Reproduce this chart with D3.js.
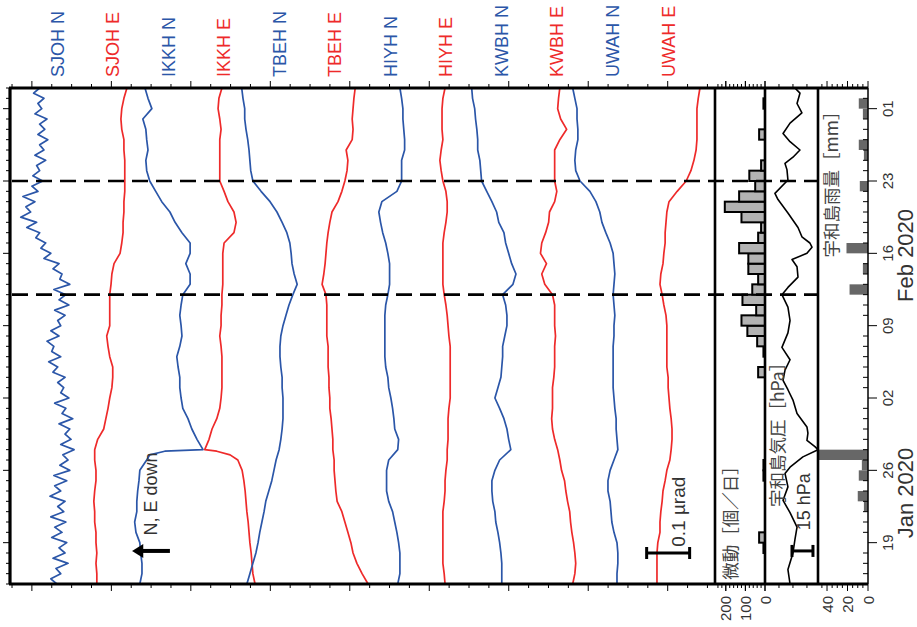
<!DOCTYPE html>
<html><head><meta charset="utf-8">
<script src="https://cdnjs.cloudflare.com/ajax/libs/d3/7.8.5/d3.min.js"></script>
<style>
body{margin:0;background:#fff}
svg{display:block}
text{font-family:"Liberation Sans",Arial,sans-serif}
.cjk{font-family:"Noto Sans CJK JP","Noto Sans CJK SC",sans-serif}
</style>
</head><body>
<svg id="c" width="917" height="627"></svg>
<script>
// ---------------- DATA ----------------
// time in days since 2020-01-15 00:00
const seriesNames = ["SJOH N","SJOH E","IKKH N","IKKH E","TBEH N","TBEH E","HIYH N","HIYH E","KWBH N","KWBH E","UWAH N","UWAH E"];
// offset (µrad) of each trace on the stacked plot
const laneOffsets = [0.109,0.202,0.302,0.570,0.551,0.833,0.902,1.012,1.144,1.309,1.412,1.505];
const dailyDays = d3.range(0, 49, 1);
const halfDays = d3.range(0, 48.5, 0.5);
const ikkhDays = [0,1,2,3,4,5,6,7,8,9,10,11,12,12.5,12.85,13,14,15,16,17,18,19,20,21,22,23,24,25,26,27,28,29,30,31,32,33,34,35,36,37,38,39,40,41,42,43,44,45,46,47,48];
// tilt change (nrad) relative to start
const SJOH_N = [0,-14,9,-2,26,-9,19,5,23,-12, 12,-5,21,-14,16,2,19,-16,9,-5, 23,-7,30,7,26,14,40,9,33,19, 30,5,37,12,21,-5,28,9,16,2, 19,-9,2,-19,9,-12,-7,-23,5,-14, 9,2,19,-5,28,5,21,-7,30,7, 12,-9,5,-30,-14,-37,-26,-49,-40,-70, -47,-84,-61,-72,-51,-79,-44,-58,-33,-56, -40,-47,-26,-51,-30,-40,-21,-44,-28,-40, -23,-51,-35,-44,-30,-54,-40];
const SJOH_E = [0,0,-2,0,-2,-2,-5,-5,-7,-5, -2,-2,-5,-5,2,16,21,26,30,35, 37,37,30,26,23,30,30,30,30,33, 35,40,54,58,61,61,63,63,65,65, 65,65,63,63,58,56,58,63,70];
const IKKH_N = [0,5,5,2,0,-9,-12,-7,-7,-5,-2,0,16, 23,58, 147,133,121,112,100,96,93,93,89,86,93,98,96,93,96,100,117,117,107,117,117,98,82,70,51,37,23,16,14,19,16,14,7,28,19,12];
const IKKH_E = [0,-5,-7,-9,-12,-14,-16,-19,-21,-23,-26,-30,-40, -58,-89, -117,-107,-100,-89,-82,-79,-77,-77,-77,-77,-79,-82,-79,-79,-77,-77,-75,-75,-75,-75,-72,-49,-44,-49,-63,-72,-82,-82,-82,-82,-82,-79,-82,-86,-84,-77];
const TBEH_N = [0,7,14,21,26,30,35,40,44,51, 58,63,68,75,79,82,84,84,84,82, 82,79,77,77,79,84,91,98,107,117, 110,105,103,100,93,82,70,54,33,14, 9,7,5,2,-2,-5,-5,-9,-12];
const TBEH_E = [0,-14,-26,-35,-40,-47,-54,-61,-72,-75, -77,-79,-79,-82,-82,-84,-86,-89,-89,-91, -91,-93,-93,-93,-96,-96,-96,-96,-98,-107, -103,-100,-98,-96,-93,-89,-84,-70,-61,-54, -49,-47,-51,-37,-35,-37,-35,-33,-30];
const HIYH_N = [0,5,5,5,2,-2,-7,-12,-21,-26, -26,-26,-21,0,2,-7,-9,-12,-16,-21, -23,-28,-30,-30,-30,-30,-30,-28,-23,-19, -19,-19,-23,-28,-35,-40,-44,-37,-2,9, 9,9,16,16,14,12,12,9,5];
const HIYH_E = [0,-2,-5,-5,-5,-5,-5,-5,-2,0, 0,2,5,5,7,7,7,9,12,12, 12,12,12,12,9,7,5,2,-2,-5, -5,-5,-5,-5,-2,2,5,5,2,-5, -9,-12,-9,-5,-7,-7,-7,-5,0];
const KWBH_N = [0,0,0,-2,-5,-9,-14,-16,-21,-23, -23,-16,-5,21,16,12,5,-5,-16,-9, -2,0,2,2,7,12,12,9,2,26, 33,23,16,9,5,-7,-12,-23,-35,-47, -49,-51,-56,-56,-58,-61,-63,-68,-70];
const KWBH_E = [0,5,7,5,2,-2,-5,-7,-12,-16, -19,-26,-30,-35,-42,-47,-49,-47,-47,-47, -44,-42,-42,-42,-40,-42,-42,-42,-47,-65, -72,-61,-75,-72,-63,-56,-54,-42,-37,-42, -42,-42,-42,-30,-14,-28,-35,-33,-30];
const UWAH_N = [0,0,2,2,0,-7,-12,-14,-16,-21, -21,-16,-7,2,0,-2,-2,-5,-7,-9, -9,-9,-9,-9,-7,-7,-5,-7,-9,-7, -5,-7,-9,-16,-26,-35,-40,-49,-63,-86, -96,-98,-96,-91,-91,-93,-93,-98,-103];
const UWAH_E = [0,0,0,0,2,7,7,9,12,14, 19,23,30,33,35,35,33,30,28,26, 26,23,23,23,23,23,21,16,12,7, 9,14,16,19,19,21,23,28,47,68, 79,86,91,93,93,93,93,96,100];

// daily tremor counts (from Jan 15, one per day)
const tremorCounts = [0,0,0,8,30,0,0,0,0,0, 8,8,0,0,0,0,0,0,0,0, 35,0,8,40,90,120,45,115,65,35, 85,85,132,35,20,120,205,132,50,80, 20,0,0,30,0,0,8,0];
// daily rainfall at Uwajima (mm)
const rainMM = [0,0,0,0,0,0,0,4,10,0, 9,6,49,0,0,0,0,0,0,0, 0,0,0,0,0,0,0,0,18,0, 5,0,21,0,0,0,0,0,8,0, 0,4,9,0,0,5,9,0];
// Uwajima air pressure (hPa)
const pressureDays = [0,1.4,3,4.3,5.5,6.9,8.1,9.4,10.7,11.3, 12.3,13,13.3,13.9,14.6,15.2,16.5,17.8,18.8,19.7, 20.7,21.7,22.9,24.3,25.5,26.8,28,28.7,29.7,30.7, 31.4,32,32.6,33,33.6,34.5,35.9,37.2,37.8,39.1, 40.1,40.7,41.3,42,42.8,43.6,44.6,45.6,46.5,47.5,48];
const pressureHPa = [1012.1,1013.6,1010,1008.6,1007.1,1012.1,1017.1,1013.6,1015.7,1012.1, 1002.9,992.1,994.3,1000,999.3,1000,1007.1,1010,1013.6,1017.1, 1015.7,1012.1,1017.9,1013.6,1012.1,1013.6,1017.9,1013.6,1006.4,1007.1, 1010.7,1000,996.4,997.9,1003.6,1006.4,1013.6,1020.7,1022.9,1013.6, 1014.3,1015.7,1010,1005,1012.1,1017.1,1012.1,1003.6,1007.1,1005,1008.6];

const dateTickDays = [4,11,18,25,32,39,46];
const dateTickLabels = ["19","26","02","09","16","23","01"];
const eventDays = [28, 39]; // dashed lines: Feb 12, Feb 23
const tremorTicks = [0,100,200];
const rainTicks = [0,20,40];

// ---------------- DRAWING ----------------
(function () {
const BLUE = "#2b56a8", RED = "#ee2a2a";
const svg = d3.select("#c");
const y = d3.scaleLinear().domain([0, 48]).range([584, 88]);
const x = d3.scaleLinear().domain([0, 1.64]).range([10, 715]);
const xMicro = d3.scaleLinear().domain([0, 255]).range([765, 715]);
const xPres = d3.scaleLinear().domain([1030, 992.1]).range([765, 818]);
const xRain = d3.scaleLinear().domain([0, 48.8]).range([868, 818]);
const yTop = y(48), yBot = y(0);

const seriesData = [SJOH_N,SJOH_E,IKKH_N,IKKH_E,TBEH_N,TBEH_E,HIYH_N,HIYH_E,KWBH_N,KWBH_E,UWAH_N,UWAH_E];
const seriesDays = [halfDays,dailyDays,ikkhDays,ikkhDays,dailyDays,dailyDays,dailyDays,dailyDays,dailyDays,dailyDays,dailyDays,dailyDays];

seriesData.forEach((vals, i) => {
  const days = seriesDays[i];
  const line = d3.line()
    .x(v => x(laneOffsets[i] + v / 1000))
    .y((v, j) => y(days[j]));
  svg.append("path").attr("d", line(vals))
    .attr("fill", "none")
    .attr("stroke", i % 2 === 0 ? BLUE : RED)
    .attr("stroke-width", 1.7)
    .attr("stroke-linejoin", "round");
});

const labelPos = d3.scalePoint().domain(seriesNames).range([57, 668]);
seriesNames.forEach((n, i) => {
  svg.append("text")
    .attr("transform", `translate(${labelPos(n) + 6.5},77) rotate(-90)`)
    .attr("font-size", 18)
    .attr("fill", i % 2 === 0 ? BLUE : RED)
    .text(n);
});

svg.append("g").selectAll("rect").data(tremorCounts.map((c, d) => ({c, d})).filter(o => o.c > 0))
  .join("rect")
  .attr("x", o => xMicro(o.c)).attr("width", o => xMicro(0) - xMicro(o.c))
  .attr("y", o => y(o.d + 1)).attr("height", o => y(o.d) - y(o.d + 1))
  .attr("fill", "#b3b3b3").attr("stroke", "#000").attr("stroke-width", 2);

svg.append("g").selectAll("rect").data(rainMM.map((c, d) => ({c, d})).filter(o => o.c > 0))
  .join("rect")
  .attr("x", o => xRain(o.c)).attr("width", o => xRain(0) - xRain(o.c))
  .attr("y", o => y(o.d + 1)).attr("height", o => y(o.d) - y(o.d + 1))
  .attr("fill", "#676767");

svg.append("path")
  .attr("d", d3.line().x(p => xPres(p)).y((p, j) => y(pressureDays[j]))(pressureHPa))
  .attr("fill", "none").attr("stroke", "#000").attr("stroke-width", 1.6).attr("stroke-linejoin", "round");

eventDays.forEach(d => {
  svg.append("line").attr("x1", 12).attr("x2", 818).attr("y1", y(d)).attr("y2", y(d))
    .attr("stroke", "#000").attr("stroke-width", 2.6).attr("stroke-dasharray", "16,8");
});

d3.range(0, 49, 1).forEach(d => {
  const major = dateTickDays.includes(d);
  svg.append("line").attr("x1", major ? 3 : 6).attr("x2", 10).attr("y1", y(d)).attr("y2", y(d))
    .attr("stroke", "#000").attr("stroke-width", 1);
  if (major) {
    svg.append("line").attr("x1", 868).attr("x2", 877).attr("y1", y(d)).attr("y2", y(d)).attr("stroke", "#000").attr("stroke-width", 1);
  } else {
    svg.append("line").attr("x1", 863).attr("x2", 868).attr("y1", y(d)).attr("y2", y(d)).attr("stroke", "#000").attr("stroke-width", 1);
  }
});
dateTickDays.forEach((d, i) => {
  svg.append("text").attr("transform", `translate(893,${y(d)}) rotate(-90)`)
    .attr("text-anchor", "middle").attr("font-size", 15).attr("fill", "#333").text(dateTickLabels[i]);
});
[["Jan 2020", 8.8], ["Feb 2020", 31.8]].forEach(([t, d]) => {
  svg.append("text").attr("transform", `translate(913,${y(d)}) rotate(-90)`)
    .attr("text-anchor", "middle").attr("font-size", 22).attr("fill", "#333").text(t);
});

const ampTicks = d3.range(0, 36).map(k => 0.0047 + k * 0.04622).filter(v => v <= 1.64);
ampTicks.forEach((v, k) => {
  const len = (k % 4 === 1) ? 7 : 4;
  svg.append("line").attr("x1", x(v)).attr("x2", x(v)).attr("y1", yTop - len).attr("y2", yTop).attr("stroke", "#000");
  svg.append("line").attr("x1", x(v)).attr("x2", x(v)).attr("y1", yBot).attr("y2", yBot + len).attr("stroke", "#000");
});
d3.range(0, 256, 20).forEach(c => {
  const len = tremorTicks.includes(c) ? 7 : 4;
  svg.append("line").attr("x1", xMicro(c)).attr("x2", xMicro(c)).attr("y1", yTop - len).attr("y2", yTop).attr("stroke", "#000");
  svg.append("line").attr("x1", xMicro(c)).attr("x2", xMicro(c)).attr("y1", yBot).attr("y2", yBot + len).attr("stroke", "#000");
});
tremorTicks.forEach(c => {
  svg.append("line").attr("x1", xMicro(c)).attr("x2", xMicro(c)).attr("y1", yTop - 7).attr("y2", yTop).attr("stroke", "#000");
  svg.append("line").attr("x1", xMicro(c)).attr("x2", xMicro(c)).attr("y1", yBot).attr("y2", yBot + 7).attr("stroke", "#000");
  svg.append("text").attr("transform", `translate(${xMicro(c) + 5.5},596) rotate(-90)`)
    .attr("text-anchor", "end").attr("font-size", 15).attr("fill", "#333").text(c);
});
[1020, 1010, 1000].forEach(p => {
  svg.append("line").attr("x1", xPres(p)).attr("x2", xPres(p)).attr("y1", yTop - 4).attr("y2", yTop).attr("stroke", "#000");
  svg.append("line").attr("x1", xPres(p)).attr("x2", xPres(p)).attr("y1", yBot).attr("y2", yBot + 4).attr("stroke", "#000");
});
d3.range(0, 49, 5).forEach(r => {
  const len = rainTicks.includes(r) ? 7 : 4;
  svg.append("line").attr("x1", xRain(r)).attr("x2", xRain(r)).attr("y1", yTop - len).attr("y2", yTop).attr("stroke", "#000");
  svg.append("line").attr("x1", xRain(r)).attr("x2", xRain(r)).attr("y1", yBot).attr("y2", yBot + len).attr("stroke", "#000");
});
rainTicks.forEach(r => {
  svg.append("text").attr("transform", `translate(${xRain(r) + 5.5},596) rotate(-90)`)
    .attr("text-anchor", "end").attr("font-size", 15).attr("fill", "#333").text(r);
});

const frame = svg.append("g").attr("stroke", "#000").attr("fill", "none");
frame.append("line").attr("x1", 9).attr("x2", 868).attr("y1", yTop).attr("y2", yTop).attr("stroke-width", 3);
frame.append("line").attr("x1", 9).attr("x2", 868).attr("y1", yBot).attr("y2", yBot).attr("stroke-width", 3);
[[x(0), 3.2], [x(1.64), 2.6], [xMicro(0), 2.6], [xPres(992.1), 2.6], [xRain(0), 1.5]].forEach(([xx, w]) => {
  frame.append("line").attr("x1", xx).attr("x2", xx).attr("y1", yTop).attr("y2", yBot).attr("stroke-width", w);
});

const ay = y(3.2);
svg.append("line").attr("x1", x(0.372)).attr("x2", x(0.300)).attr("y1", ay).attr("y2", ay).attr("stroke", "#000").attr("stroke-width", 4);
svg.append("path").attr("d", `M${x(0.284)},${ay} L${x(0.310)},${ay - 7} L${x(0.310)},${ay + 7} Z`).attr("fill", "#000");
svg.append("text").attr("transform", `translate(${x(0.342)},${y(4.7)}) rotate(-90)`)
  .attr("font-size", 18).attr("fill", "#333").text("N, E down");

function hbar(x1, x2, yy, cap) {
  svg.append("line").attr("x1", x1).attr("x2", x2).attr("y1", yy).attr("y2", yy).attr("stroke", "#000").attr("stroke-width", 3);
  [x1, x2].forEach(xx => svg.append("line").attr("x1", xx).attr("x2", xx).attr("y1", yy - cap).attr("y2", yy + cap).attr("stroke", "#000").attr("stroke-width", 3));
}
hbar(x(1.481), x(1.581), y(3.0), 6);
svg.append("text").attr("transform", `translate(${x(1.570)},${y(3.6)}) rotate(-90)`)
  .attr("font-size", 19).attr("fill", "#333").text("0.1 µrad");

hbar(xPres(1010.7), xPres(995.7), y(3.2), 6);
svg.append("text").attr("transform", `translate(810,${y(5.2)}) rotate(-90)`)
  .attr("font-size", 18).attr("fill", "#333").text("15 hPa");

svg.append("text").attr("class", "cjk").attr("transform", `translate(737,${y(0.4)}) rotate(-90)`)
  .attr("font-size", 17.5).attr("fill", "#444").text("微動［個／日］");
svg.append("text").attr("class", "cjk").attr("transform", `translate(784,${y(7.45)}) rotate(-90)`)
  .attr("font-size", 17.5).attr("fill", "#444").text("宇和島気圧［hPa］");
svg.append("text").attr("class", "cjk").attr("transform", `translate(838,${y(31.6)}) rotate(-90)`)
  .attr("font-size", 17.5).attr("fill", "#444").text("宇和島雨量［mm］");
})();
</script>
</body></html>
